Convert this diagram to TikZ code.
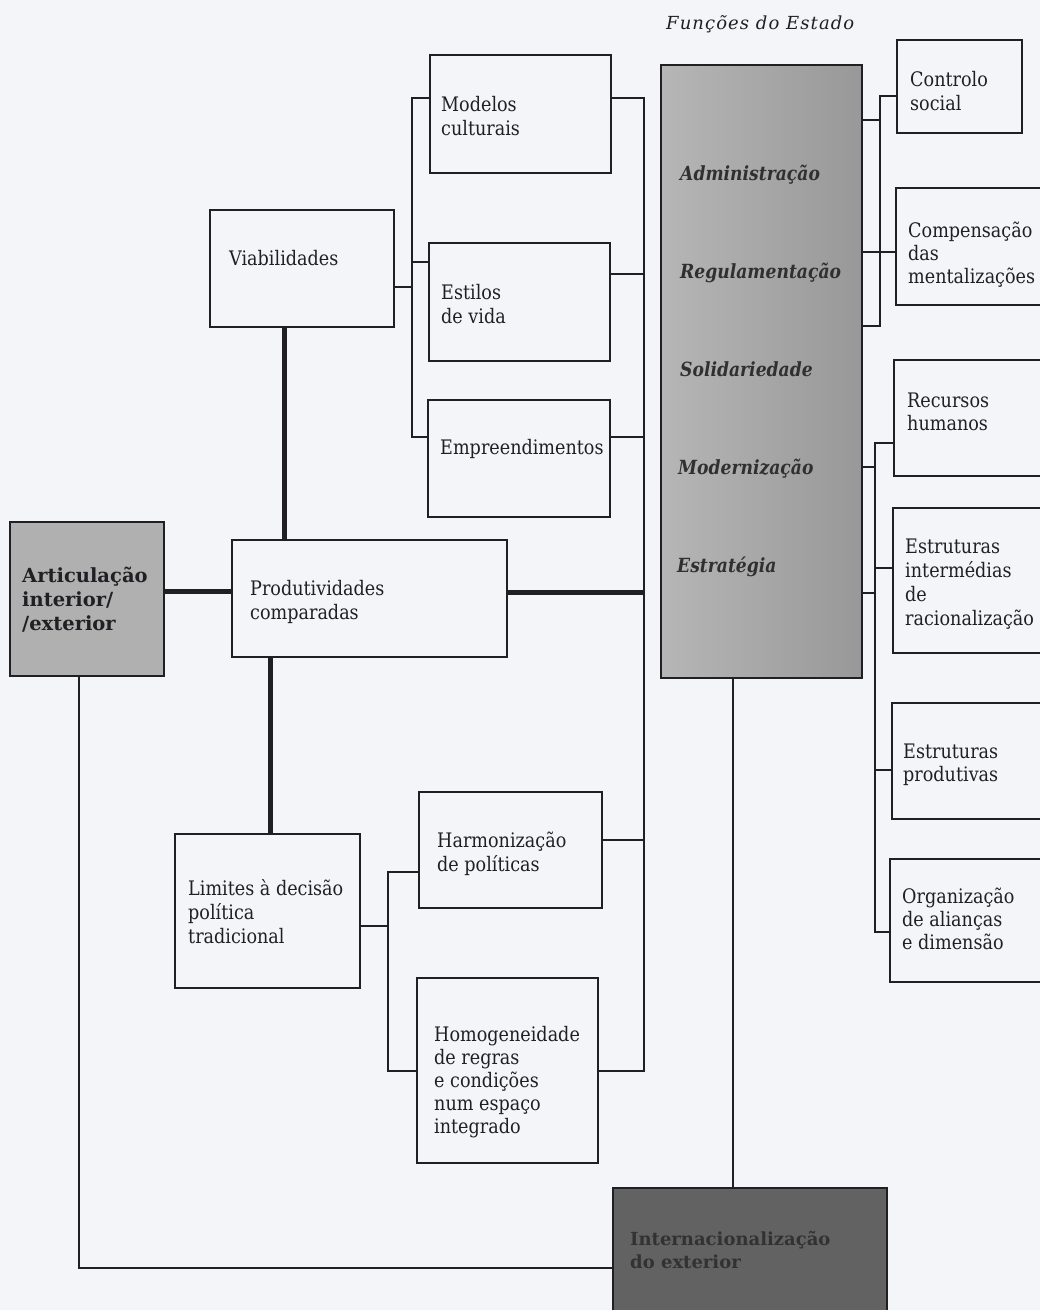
\documentclass[tikz,border=0pt]{standalone}
\usepackage{fontspec}
\setmainfont{DejaVu Serif}[FakeStretch=0.88]
\newfontfamily\boldlab{DejaVu Serif}
\newfontfamily\titlefont{DejaVu Serif}[LetterSpace=6]
\definecolor{bg}{RGB}{243,245,248}
\definecolor{ink}{RGB}{32,32,36}
\definecolor{fnA}{RGB}{182,182,182}
\definecolor{fnB}{RGB}{152,152,152}
\definecolor{artfill}{RGB}{176,176,176}
\definecolor{intfill}{RGB}{98,98,98}
\definecolor{inttext}{RGB}{50,50,50}
\definecolor{itext}{RGB}{48,48,50}
\begin{document}
\begin{tikzpicture}[x=1pt,y=-1pt,
  bx/.style={draw=ink, line width=2.6pt, inner sep=0pt, outer sep=0pt},
  tx/.style={anchor=base west, align=left, inner sep=0pt, text=ink, font=\fontsize{20}{24}\selectfont},
  btx/.style={anchor=base west, align=left, inner sep=0pt, font=\boldlab\bfseries\fontsize{19.5}{24}\selectfont},
  itx/.style={anchor=base west, inner sep=0pt, text=itext, font=\bfseries\itshape\fontsize{19.5}{24}\selectfont},
  cn/.style={draw=ink, line width=2.6pt, line join=miter},
  thk/.style={draw=ink, line width=5pt},
]
\useasboundingbox (0,0) rectangle (1040,1310);
\clip (0,0) rectangle (1040,1310);
\fill[bg] (0,0) rectangle (1040,1310);

% boxes
\node[bx, minimum width=181pt, minimum height=118pt] (modelos) at (520.5,114) {};
\node[bx, minimum width=181pt, minimum height=118pt] (estilos) at (519.5,302) {};
\node[bx, minimum width=182pt, minimum height=117pt] (empre) at (519,458.5) {};
\node[bx, minimum width=184pt, minimum height=117pt] (viab) at (302,268.5) {};
\node[bx, minimum width=275pt, minimum height=117pt] (prod) at (369.5,598.5) {};
\node[bx, fill=artfill, minimum width=154pt, minimum height=154pt] (artic) at (87,599) {};
\node[bx, minimum width=185pt, minimum height=154pt] (limites) at (267.5,911) {};
\node[bx, minimum width=183pt, minimum height=116pt] (harm) at (510.5,850) {};
\node[bx, minimum width=181pt, minimum height=185pt] (homog) at (507.5,1070.5) {};
\node[bx, left color=fnA, right color=fnB, minimum width=201pt, minimum height=613pt] (funcoes) at (761.5,371.5) {};
\node[bx, minimum width=125pt, minimum height=93pt] (controlo) at (959.5,86.5) {};
\node[bx, minimum width=164pt, minimum height=117pt] (compens) at (978,246.5) {};
\node[bx, minimum width=166pt, minimum height=116pt] (recursos) at (977,418) {};
\node[bx, minimum width=167pt, minimum height=145pt] (estint) at (976.5,580.5) {};
\node[bx, minimum width=168pt, minimum height=116pt] (estprod) at (976,761) {};
\node[bx, minimum width=170pt, minimum height=123pt] (organiz) at (975,920.5) {};
\node[bx, fill=intfill, minimum width=274pt, minimum height=142pt] (intern) at (750,1259) {};

% texts (anchored at the baseline of the last line)
\node[tx] (modelos-t) at (441,135) {Modelos\\culturais};
\node[tx] (estilos-t) at (441,323) {Estilos\\de vida};
\node[tx] (empre-t) at (440,454) {Empreendimentos};
\node[tx] (viab-t) at (229,265) {Viabilidades};
\node[tx] (prod-t) at (250,619) {Produtividades\\comparadas};
\node[tx] (limites-t) at (188,943) {Limites à decisão\\política\\tradicional};
\node[tx] (harm-t) at (437,871) {Harmonização\\de políticas};
\node[tx, font=\fontsize{20}{23}\selectfont] (homog-t) at (434,1133) {Homogeneidade\\de regras\\e condições\\num espaço\\integrado};
\node[tx] (controlo-t) at (910,110) {Controlo\\social};
\node[tx, font=\fontsize{20}{23}\selectfont] (compens-t) at (908,283) {Compensação\\das\\mentalizações};
\node[tx, font=\fontsize{20}{23}\selectfont] (recursos-t) at (907,430) {Recursos\\humanos};
\node[tx] (estint-t) at (905,625) {Estruturas\\intermédias\\de\\racionalização};
\node[tx, font=\fontsize{20}{23}\selectfont] (estprod-t) at (903,781) {Estruturas\\produtivas};
\node[tx, font=\fontsize{20}{23}\selectfont] (organiz-t) at (902,949) {Organização\\de alianças\\e dimensão};
\node[btx, text=ink] (artic-t) at (22,630) {Articulação\\interior/\\/exterior};
\node[btx, text=inttext, font=\boldlab\bfseries\fontsize{18}{23}\selectfont] (intern-t) at (630,1268) {Internacionalização\\do exterior};
\node[itx] (f1) at (680,180) {Administração};
\node[itx] (f2) at (680,278) {Regulamentação};
\node[itx] (f3) at (680,376) {Solidariedade};
\node[itx] (f4) at (678,474) {Modernização};
\node[itx] (f5) at (677,572) {Estratégia};
\node[anchor=base west, inner sep=0pt, text=ink, font=\titlefont\itshape\fontsize{18}{20}\selectfont] (titulo) at (666,29) {Funções do Estado};

% junction coordinates
\coordinate (j0) at (412,287);
\coordinate (j1) at (412,98);
\coordinate (j2) at (412,262);
\coordinate (j3) at (412,437);
\coordinate (r1) at (644,98);
\coordinate (r2) at (644,274);
\coordinate (r3) at (644,437);
\coordinate (r4) at (644,592);
\coordinate (r5) at (644,840);
\coordinate (r6) at (644,1071);
\coordinate (l0) at (388,926);
\coordinate (l1) at (388,872);
\coordinate (l2) at (388,1071);
\coordinate (t1) at (880,96);
\coordinate (t2) at (880,120);
\coordinate (t3) at (880,252);
\coordinate (t4) at (880,326);
\coordinate (b1) at (875,443);
\coordinate (b2) at (875,467);
\coordinate (b3) at (875,568);
\coordinate (b4) at (875,593);
\coordinate (b5) at (875,770);
\coordinate (b6) at (875,932);
\coordinate (v1) at (284,0);
\coordinate (v2) at (270,0);
\coordinate (v3) at (733,0);
\coordinate (h1) at (0,591);
\coordinate (artL) at (79,1268);

% upper left bracket
\draw[cn] (viab.east |- j0) -- (j0);
\draw[cn] (modelos.west |- j1) -- (j1) -- (j3) -- (empre.west |- j3);
\draw[cn] (j2) -- (estilos.west |- j2);
% right main bracket
\draw[cn] (modelos.east |- r1) -- (r1) -- (r6) -- (homog.east |- r6);
\draw[cn] (estilos.east |- r2) -- (r2);
\draw[cn] (empre.east |- r3) -- (r3);
\draw[cn] (harm.east |- r5) -- (r5);
% lower left bracket
\draw[cn] (limites.east |- l0) -- (l0);
\draw[cn] (harm.west |- l1) -- (l1) -- (l2) -- (homog.west |- l2);
% right top bracket
\draw[cn] (controlo.west |- t1) -- (t1) -- (t4) -- (funcoes.east |- t4);
\draw[cn] (funcoes.east |- t2) -- (t2);
\draw[cn] (funcoes.east |- t3) -- (compens.west |- t3);
% right lower bracket
\draw[cn] (recursos.west |- b1) -- (b1) -- (b6) -- (organiz.west |- b6);
\draw[cn] (funcoes.east |- b2) -- (b2);
\draw[cn] (funcoes.east |- b4) -- (b4);
\draw[cn] (estint.west |- b3) -- (b3);
\draw[cn] (estprod.west |- b5) -- (b5);
% thick connectors
\draw[thk] (viab.south -| v1) -- (prod.north -| v1);
\draw[thk] (prod.south -| v2) -- (limites.north -| v2);
\draw[thk] (artic.east |- h1) -- (prod.west |- h1);
\draw[thk] (prod.east |- r4) -- (r4);
% to internacionalizacao
\draw[cn] (funcoes.south -| v3) -- (intern.north -| v3);
\draw[cn] (artic.south -| artL) -- (artL) -- (intern.west |- artL);
\end{tikzpicture}
\end{document}
